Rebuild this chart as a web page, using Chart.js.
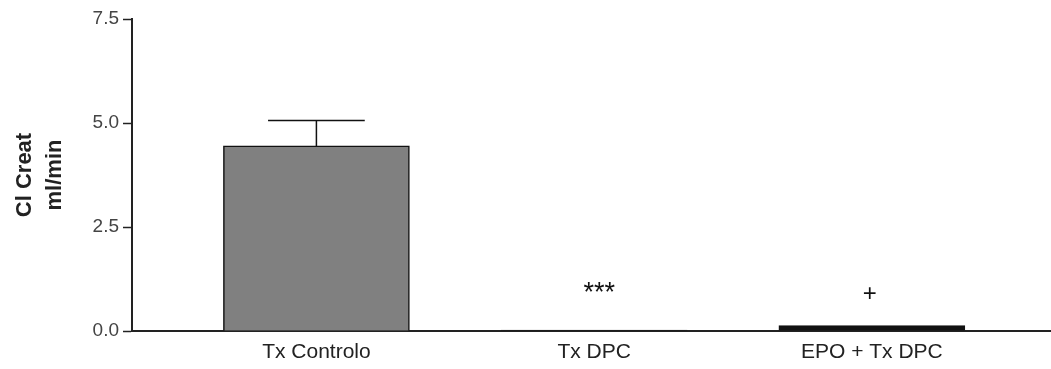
<!DOCTYPE html>
<html>
<head>
<meta charset="utf-8">
<script src="https://cdn.jsdelivr.net/npm/chart.js@4"></script>
<style>
  html, body { margin: 0; padding: 0; background: #fff; }
  #wrap { width: 1051px; height: 369px; position: relative; }
</style>
</head>
<body>
<div id="wrap"><canvas id="c" width="1051" height="369"></canvas></div>
<script>
const categories = ['Tx Controlo', 'Tx DPC', 'EPO + Tx DPC'];
const means = [4.45, 0.02, 0.13];
const sem = [0.61, 0, 0];
const sigMarks = ['', '***', '+'];
const sigLevels = [null, 1.0, 0.87];
const yTicks = [0, 2.5, 5.0, 7.5];
const barColors = ['#808080', '#222222', '#111111'];

const points = categories.map((c, i) => ({ x: i + 1, y: means[i] }));

const extras = {
  id: 'extras',
  afterDatasetsDraw(chart) {
    const ctx = chart.ctx;
    const meta = chart.getDatasetMeta(0);
    const ys = chart.scales.y;
    ctx.save();
    meta.data.forEach((bar, i) => {
      if (sem[i] > 0) {
        const top = ys.getPixelForValue(means[i] + sem[i]);
        const base = ys.getPixelForValue(means[i]);
        const half = bar.width * 0.26;
        ctx.strokeStyle = '#111';
        ctx.lineWidth = 1.5;
        ctx.beginPath();
        ctx.moveTo(bar.x, base);
        ctx.lineTo(bar.x, top);
        ctx.moveTo(bar.x - half, top);
        ctx.lineTo(bar.x + half, top);
        ctx.stroke();
      }
      if (sigMarks[i]) {
        ctx.fillStyle = '#111';
        ctx.font = (i === 1 ? '27px' : '24px') + ' "Liberation Sans", Arial, sans-serif';
        ctx.textAlign = 'center';
        ctx.textBaseline = 'middle';
        ctx.fillText(sigMarks[i], bar.x + (i === 1 ? 5 : -2), ys.getPixelForValue(sigLevels[i]) + (i === 1 ? 4 : 0));
      }
    });
    ctx.restore();
  }
};

new Chart(document.getElementById('c'), {
  type: 'bar',
  data: {
    datasets: [{
      data: points,
      backgroundColor: barColors,
      borderColor: '#111',
      borderWidth: 1.5,
      barThickness: 186
    }]
  },
  options: {
    responsive: false,
    animation: false,
    events: [],
    layout: { padding: { left: 0, right: 0, top: 19, bottom: 0 } },
    plugins: { legend: { display: false }, tooltip: { enabled: false } },
    scales: {
      x: {
        type: 'linear',
        offset: false,
        min: 0.336,
        max: 3.645,
        afterFit(s) { s.height = 38; },
        afterBuildTicks(s) { s.ticks = categories.map((c, i) => ({ value: i + 1 })); },
        grid: { display: true, drawOnChartArea: false, drawTicks: false, offset: false },
        border: { display: true, color: '#222', width: 2 },
        ticks: {
          padding: 9,
          color: '#222',
          font: { family: '"Liberation Sans", Arial, sans-serif', size: 21 },
          callback: (v) => categories[Math.round(v) - 1] || ''
        }
      },
      y: {
        min: 0,
        max: 7.5,
        afterFit(s) { s.width = 132; },
        afterBuildTicks(s) { s.ticks = yTicks.map(v => ({ value: v })); },
        grid: { display: true, drawOnChartArea: false, drawTicks: true, tickLength: 9, color: '#222', tickWidth: 1.5 },
        border: { display: true, color: '#222', width: 2 },
        ticks: {
          padding: 4,
          color: '#444',
          font: { family: '"Liberation Sans", Arial, sans-serif', size: 19 },
          callback: (v) => Number(v).toFixed(1)
        },
        title: {
          display: true,
          text: ['Cl Creat', 'ml/min'],
          color: '#222',
          padding: { top: 10, bottom: 0 },
          font: { family: '"Liberation Sans", Arial, sans-serif', size: 22, weight: 'bold', lineHeight: 1.35 }
        }
      }
    }
  },
  plugins: [extras]
});
</script>
</body>
</html>
